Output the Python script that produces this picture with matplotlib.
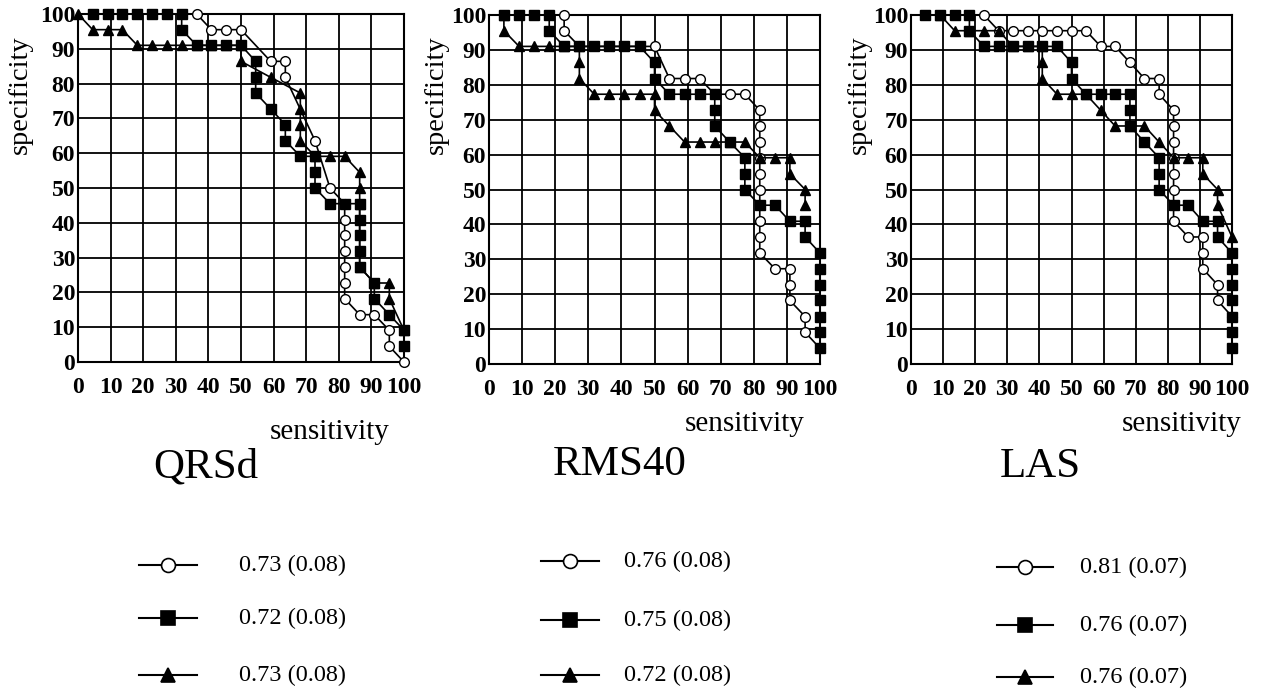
import matplotlib
matplotlib.use("Agg")
import matplotlib.pyplot as plt
from matplotlib.lines import Line2D

# ---- data (sensitivity %, specificity %) ----
panel_titles = ["QRSd", "RMS40", "LAS"]

qrsd_open_sens = [36.4, 40.9, 45.5, 50, 59.1, 63.6, 63.6, 72.7, 77.3, 81.8, 81.8, 81.8, 81.8,
                  81.8, 81.8, 81.8, 86.4, 90.9, 95.5, 95.5, 100]
qrsd_open_spec = [100, 95.5, 95.5, 95.5, 86.4, 86.4, 81.8, 63.6, 50, 45.5, 40.9, 36.4, 31.8,
                  27.3, 22.7, 18.2, 13.6, 13.6, 9.1, 4.5, 0]
qrsd_sq_sens = [4.5, 9.1, 13.6, 18.2, 22.7, 27.3, 31.8, 31.8, 36.4, 40.9, 45.5, 50, 54.5, 54.5,
                54.5, 59.1, 63.6, 63.6, 68.2, 72.7, 72.7, 72.7, 77.3, 81.8, 86.4, 86.4, 86.4,
                86.4, 86.4, 90.9, 90.9, 95.5, 100, 100]
qrsd_sq_spec = [100, 100, 100, 100, 100, 100, 100, 95.5, 91, 91, 91, 91, 86.4, 81.8, 77.3, 72.7,
                68.2, 63.6, 59.1, 59.1, 54.5, 50, 45.5, 45.5, 45.5, 40.9, 36.4, 31.8, 27.3, 22.7,
                18.2, 13.6, 9.1, 4.5]
qrsd_tri_sens = [0, 4.5, 9.1, 13.6, 18.2, 22.7, 27.3, 31.8, 36.4, 40.9, 45.5, 50, 50, 59.1, 68.2,
                 68.2, 68.2, 68.2, 72.7, 77.3, 81.8, 86.4, 86.4, 86.4, 86.4, 90.9, 95.5, 95.5, 100]
qrsd_tri_spec = [100, 95.5, 95.5, 95.5, 91, 91, 91, 91, 91, 91, 91, 91, 86.4, 81.8, 77.3, 72.7,
                 68.2, 63.6, 59.1, 59.1, 59.1, 54.5, 50, 45.5, 27.3, 22.7, 22.7, 18.2, 9.1]

rms_open_sens = [22.7, 22.7, 27.3, 50, 54.5, 59.1, 63.6, 68.2, 72.7, 77.3, 81.8, 81.8, 81.8, 81.8,
                 81.8, 81.8, 81.8, 81.8, 81.8, 81.8, 86.4, 90.9, 90.9, 90.9, 95.5, 95.5, 100]
rms_open_spec = [100, 95.5, 91, 91, 81.8, 81.8, 81.8, 77.3, 77.3, 77.3, 72.7, 68.2, 63.6, 59.1,
                 54.5, 50, 45.5, 40.9, 36.4, 31.8, 27.3, 27.3, 22.7, 18.2, 13.6, 9.1, 4.5]
rms_sq_sens = [4.5, 9.1, 13.6, 18.2, 18.2, 22.7, 27.3, 31.8, 36.4, 40.9, 45.5, 50, 50, 54.5, 59.1,
               63.6, 68.2, 68.2, 68.2, 72.7, 77.3, 77.3, 77.3, 81.8, 86.4, 90.9, 95.5, 95.5,
               100, 100, 100, 100, 100, 100, 100]
rms_sq_spec = [100, 100, 100, 100, 95.5, 91, 91, 91, 91, 91, 91, 86.4, 81.8, 77.3, 77.3, 77.3,
               77.3, 72.7, 68.2, 63.6, 59.1, 54.5, 50, 45.5, 45.5, 40.9, 40.9, 36.4,
               31.8, 27.3, 22.7, 18.2, 13.6, 9.1, 4.5]
rms_tri_sens = [4.5, 4.5, 9.1, 13.6, 18.2, 22.7, 27.3, 27.3, 27.3, 31.8, 36.4, 40.9, 45.5, 50, 50,
                54.5, 59.1, 63.6, 68.2, 72.7, 77.3, 81.8, 86.4, 90.9, 90.9, 95.5, 95.5]
rms_tri_spec = [100, 95.5, 91, 91, 91, 91, 91, 86.4, 81.8, 77.3, 77.3, 77.3, 77.3, 77.3, 72.7,
                68.2, 63.6, 63.6, 63.6, 63.6, 63.6, 59.1, 59.1, 59.1, 54.5, 50, 45.5]

las_open_sens = [22.7, 27.3, 31.8, 36.4, 40.9, 45.5, 50, 54.5, 59.1, 63.6, 68.2, 72.7, 77.3, 77.3,
                 81.8, 81.8, 81.8, 81.8, 81.8, 81.8, 81.8, 81.8, 86.4, 90.9, 90.9, 90.9, 95.5,
                 95.5, 100]
las_open_spec = [100, 95.5, 95.5, 95.5, 95.5, 95.5, 95.5, 95.5, 91, 91, 86.4, 81.8, 81.8, 77.3,
                 72.7, 68.2, 63.6, 59.1, 54.5, 50, 45.5, 40.9, 36.4, 36.4, 31.8, 27.3, 22.7,
                 18.2, 13.6]
las_sq_sens = [4.5, 9.1, 13.6, 18.2, 18.2, 22.7, 27.3, 31.8, 36.4, 40.9, 45.5, 50, 50, 54.5, 59.1,
               63.6, 68.2, 68.2, 68.2, 72.7, 77.3, 77.3, 77.3, 81.8, 86.4, 90.9, 95.5, 95.5,
               100, 100, 100, 100, 100, 100, 100]
las_sq_spec = [100, 100, 100, 100, 95.5, 91, 91, 91, 91, 91, 91, 86.4, 81.8, 77.3, 77.3, 77.3,
               77.3, 72.7, 68.2, 63.6, 59.1, 54.5, 50, 45.5, 45.5, 40.9, 40.9, 36.4,
               31.8, 27.3, 22.7, 18.2, 13.6, 9.1, 4.5]
las_tri_sens = [9.1, 13.6, 18.2, 22.7, 27.3, 31.8, 36.4, 40.9, 40.9, 40.9, 45.5, 50, 54.5, 59.1,
                63.6, 68.2, 72.7, 77.3, 81.8, 86.4, 90.9, 90.9, 95.5, 95.5, 100]
las_tri_spec = [100, 95.5, 95.5, 95.5, 95.5, 91, 91, 91, 86.4, 81.8, 77.3, 77.3, 77.3, 72.7, 68.2,
                68.2, 68.2, 63.6, 59.1, 59.1, 59.1, 54.5, 50, 45.5, 36.4]

auc_labels = [["0.73 (0.08)", "0.72 (0.08)", "0.73 (0.08)"],
              ["0.76 (0.08)", "0.75 (0.08)", "0.72 (0.08)"],
              ["0.81 (0.07)", "0.76 (0.07)", "0.76 (0.07)"]]

series = [
    [(qrsd_open_sens, qrsd_open_spec), (qrsd_sq_sens, qrsd_sq_spec), (qrsd_tri_sens, qrsd_tri_spec)],
    [(rms_open_sens, rms_open_spec), (rms_sq_sens, rms_sq_spec), (rms_tri_sens, rms_tri_spec)],
    [(las_open_sens, las_open_spec), (las_sq_sens, las_sq_spec), (las_tri_sens, las_tri_spec)],
]

W, H = 1269, 693
serif = "Liberation Serif"

# marker styles: open circle, filled square, filled triangle
styles = [dict(marker="o", ms=7, mfc="white", zorder=3),
          dict(marker="s", ms=6.5, mfc="black", zorder=5),
          dict(marker="^", ms=7.5, mfc="black", zorder=4)]

# axes boxes in pixels: left, right, top, bottom
boxes = [(78, 404, 14, 362), (489, 820, 15, 364), (911, 1232, 15, 364)]
ylabel_x = [33, 449, 872]   # right edge of the rotated label
ylabel_y = 95
sens_label_pos = [(330, 432), (745, 424), (1182, 424)]
title_pos = [(206, 467), (620, 465), (1040, 467)]
leg_rows = [[565, 618, 675], [561, 620, 675], [567, 625, 677]]
leg_line = [(139, 197), (541, 599), (997, 1053)]
leg_text_x = [239, 624, 1080]

fig = plt.figure(figsize=(W / 100, H / 100), dpi=100)

for i in range(3):
    l, r, t, b = boxes[i]
    ax = fig.add_axes([l / W, 1 - b / H, (r - l) / W, (b - t) / H])
    for (xs, ys), st in zip(series[i], styles):
        ax.plot(xs, ys, color="black", lw=1.2, mec="black", mew=1.0, clip_on=False, **st)
    ax.set_xlim(0, 100)
    ax.set_ylim(0, 100)
    ax.set_xticks(range(0, 101, 10))
    ax.set_yticks(range(0, 101, 10))
    ax.grid(True, color="black", lw=1.3)
    ax.set_axisbelow(True)
    for s in ax.spines.values():
        s.set_linewidth(1.5)
    ax.tick_params(length=0, labelsize=17)
    ax.tick_params(axis="x", pad=11)
    ax.tick_params(axis="y", pad=2)
    for lab in ax.get_xticklabels() + ax.get_yticklabels():
        lab.set_fontfamily(serif)
        lab.set_fontweight("bold")
    ax.set_ylabel("specificity", fontfamily=serif, fontsize=20.5)
    ax.yaxis.set_label_coords((ylabel_x[i] - l) / (r - l), (b - ylabel_y) / (b - t))

    fig.text(sens_label_pos[i][0] / W, 1 - sens_label_pos[i][1] / H, "sensitivity",
             fontfamily=serif, fontsize=21, ha="center", va="center")
    fig.text(title_pos[i][0] / W, 1 - title_pos[i][1] / H, panel_titles[i],
             fontfamily=serif, fontsize=31, ha="center", va="center")

    x0, x1 = leg_line[i]
    for k, y in enumerate(leg_rows[i]):
        yf = 1 - y / H
        fig.add_artist(Line2D([x0 / W, x1 / W], [yf, yf], color="black", lw=1.5,
                              transform=fig.transFigure))
        st = styles[k]
        fig.add_artist(Line2D([(x0 + x1) / 2 / W], [yf], color="black", marker=st["marker"],
                              ms=st["ms"] + 3, mfc=st["mfc"], mec="black", mew=1.2,
                              transform=fig.transFigure))
        fig.text(leg_text_x[i] / W, yf, auc_labels[i][k], fontfamily=serif, fontsize=17.5,
                 ha="left", va="center")

fig.savefig("out.png", dpi=100)
